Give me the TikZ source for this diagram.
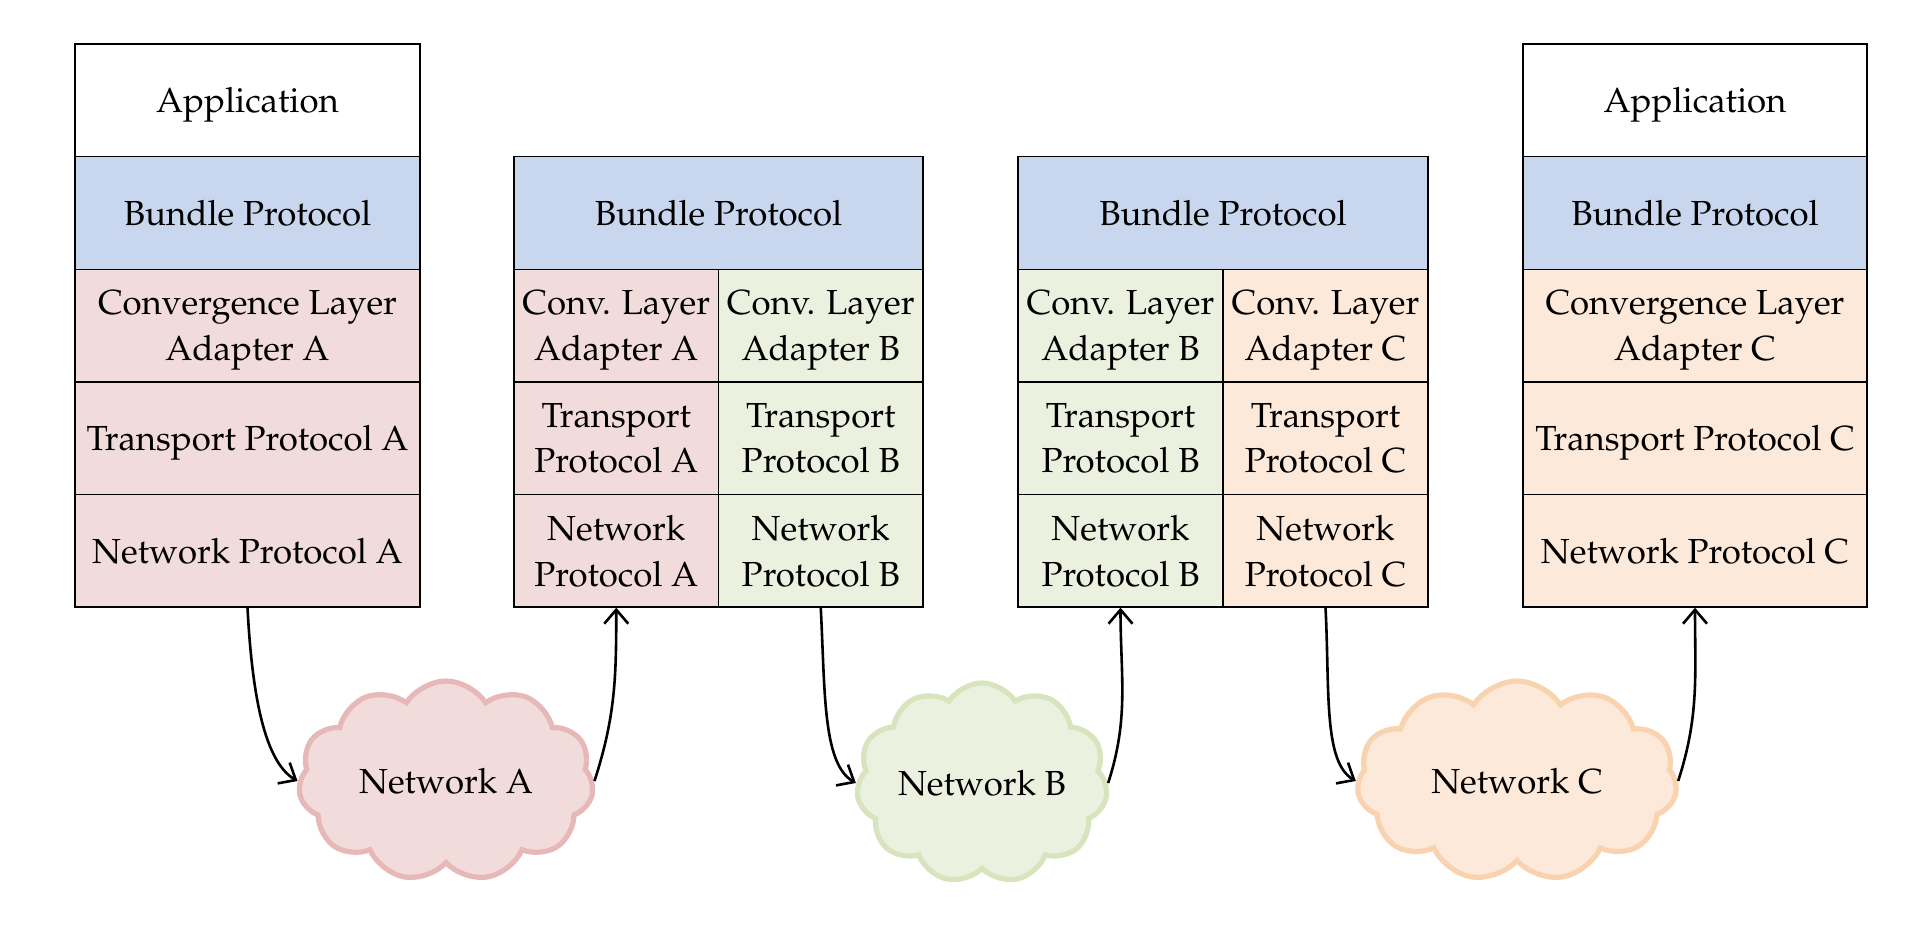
\documentclass[tikz,border=0pt]{standalone}
\usepackage[T1]{fontenc}
\usepackage{mathpazo}
\usetikzlibrary{shapes.symbols,arrows.meta}
\definecolor{bpblue}{HTML}{C8D7ED}
\definecolor{pinkfill}{HTML}{F2DCDB}
\definecolor{greenfill}{HTML}{EBF1DE}
\definecolor{orangefill}{HTML}{FDE9D9}
\definecolor{pinkline}{HTML}{E6B9B8}
\definecolor{greenline}{HTML}{D7E4BD}
\definecolor{orangeline}{HTML}{F9D3B0}
\begin{document}
\begin{tikzpicture}[x=0.5pt,y=-0.5pt,
  cell/.style={draw=black, line width=0.7pt, inner sep=0pt, align=center,
    minimum height=56.3pt, text depth=0pt, font=\fontsize{17.4}{22.8}\selectfont},
  full1/.style={cell, minimum width=172.5pt},
  full4/.style={cell, minimum width=172pt},
  half2/.style={cell, minimum width=102.25pt},
  half3/.style={cell, minimum width=102.5pt},
  net/.style={cloud, cloud puffs=11, cloud puff arc=115, cloud ignores aspect,
    line width=2.6pt, inner sep=0pt, minimum height=100pt, text depth=0pt,
    font=\fontsize{17.4}{22.8}\selectfont},
  arr/.style={line width=1.3pt, -{Straight Barb[length=7pt,width=12pt]}},
  down/.style={out=-87, in=150, out looseness=1.2, in looseness=0.55},
  up/.style={out=72, in=-90}
]
\useasboundingbox (0,0) rectangle (1932,926);

% Stack 1
\node[full1, fill=white] (app1) at (247.5,100.3) {Application};
\node[full1, fill=bpblue] (bp1) at (247.5,212.9) {Bundle Protocol};
\node[full1, fill=pinkfill] (cla1) at (247.5,325.5) {Convergence Layer\\Adapter A};
\node[full1, fill=pinkfill] (tp1) at (247.5,438.1) {Transport Protocol A};
\node[full1, fill=pinkfill] (np1) at (247.5,550.7) {Network Protocol A};

% Stack 2
\node[cell, minimum width=204.5pt, fill=bpblue] (bp2) at (718.5,212.9) {Bundle Protocol};
\node[half2, fill=pinkfill] (cla2a) at (616.25,325.5) {Conv. Layer\\Adapter A};
\node[half2, fill=greenfill] (cla2b) at (820.75,325.5) {Conv. Layer\\Adapter B};
\node[half2, fill=pinkfill] (tp2a) at (616.25,438.1) {Transport\\Protocol A};
\node[half2, fill=greenfill] (tp2b) at (820.75,438.1) {Transport\\Protocol B};
\node[half2, fill=pinkfill] (np2a) at (616.25,550.7) {Network\\Protocol A};
\node[half2, fill=greenfill] (np2b) at (820.75,550.7) {Network\\Protocol B};

% Stack 3
\node[cell, minimum width=205pt, fill=bpblue] (bp3) at (1223,212.9) {Bundle Protocol};
\node[half3, fill=greenfill] (cla3a) at (1120.5,325.5) {Conv. Layer\\Adapter B};
\node[half3, fill=orangefill] (cla3b) at (1325.5,325.5) {Conv. Layer\\Adapter C};
\node[half3, fill=greenfill] (tp3a) at (1120.5,438.1) {Transport\\Protocol B};
\node[half3, fill=orangefill] (tp3b) at (1325.5,438.1) {Transport\\Protocol C};
\node[half3, fill=greenfill] (np3a) at (1120.5,550.7) {Network\\Protocol B};
\node[half3, fill=orangefill] (np3b) at (1325.5,550.7) {Network\\Protocol C};

% Stack 4
\node[full4, fill=white] (app4) at (1695,100.3) {Application};
\node[full4, fill=bpblue] (bp4) at (1695,212.9) {Bundle Protocol};
\node[full4, fill=orangefill] (cla4) at (1695,325.5) {Convergence Layer\\Adapter C};
\node[full4, fill=orangefill] (tp4) at (1695,438.1) {Transport Protocol C};
\node[full4, fill=orangefill] (np4) at (1695,550.7) {Network Protocol C};

% Clouds
\node[net, draw=pinkline, fill=pinkfill, minimum width=147.5pt] (netA) at (446,781) {Network A};
\node[net, draw=greenline, fill=greenfill, minimum width=125.5pt] (netB) at (982,783) {Network B};
\node[net, draw=orangeline, fill=orangefill, minimum width=160pt] (netC) at (1517,781) {Network C};

% Connectors
\draw[arr] (np1.south) to[down] (netA.west);
\draw[arr] (netA.east) to[up] (np2a.south);
\draw[arr] (np2b.south) to[down] (netB.west);
\draw[arr] (netB.east) to[up] (np3a.south);
\draw[arr] (np3b.south) to[down] (netC.west);
\draw[arr] (netC.east) to[up] (np4.south);
\end{tikzpicture}
\end{document}
